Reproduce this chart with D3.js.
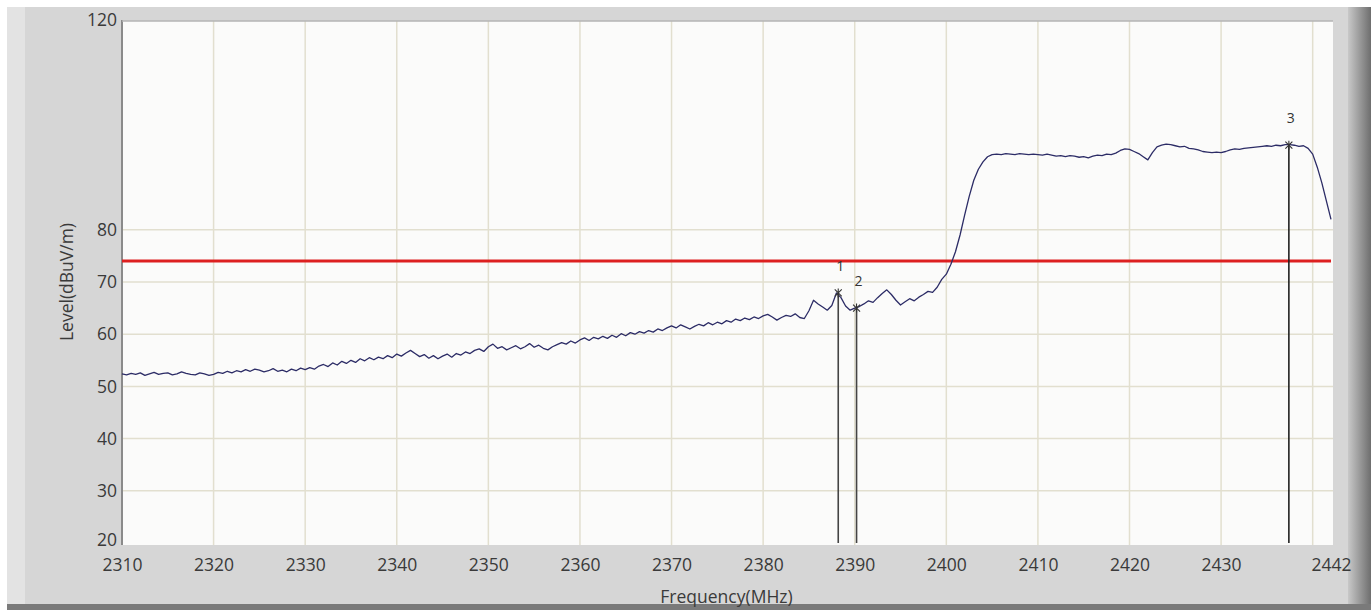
<!DOCTYPE html>
<html><head><meta charset="utf-8">
<script src="https://cdn.jsdelivr.net/npm/d3@7"></script>
<style>
html,body{margin:0;padding:0;background:#d7d7d7;overflow:hidden}
svg{display:block}
</style></head>
<body>
<svg id="c" width="1371" height="610"></svg>
<script>
// ---- data ----
const freqStart = 2310;
const freqStep = 0.5;
const levels = [
  // 2310 - 2319.5
  52.4, 52.2, 52.5, 52.3, 52.6, 52.1, 52.4, 52.7, 52.3, 52.5, 52.6, 52.2, 52.4, 52.8, 52.5, 52.3, 52.2, 52.6, 52.4, 52.1,
  // 2320
  52.3, 52.7, 52.5, 52.9, 52.6, 53.0, 52.8, 53.2, 52.9, 53.3, 53.1, 52.8, 53.0, 53.4, 52.9, 53.1, 52.8, 53.3, 53.0, 53.5,
  // 2330
  53.2, 53.6, 53.3, 53.9, 54.2, 53.8, 54.5, 54.1, 54.8, 54.4, 55.0, 54.6, 55.3, 54.9, 55.5, 55.1, 55.6, 55.3, 55.9, 55.5,
  // 2340
  56.2, 55.8, 56.4, 56.9, 56.3, 55.7, 56.1, 55.4, 55.9, 55.3, 55.8, 56.2, 55.6, 56.3, 56.0, 56.6, 56.3, 56.9, 57.2, 56.7,
  // 2350
  57.6, 58.1, 57.3, 57.6, 57.0, 57.4, 57.8, 57.2, 57.6, 58.2, 57.5, 57.9, 57.3, 57.0, 57.6, 58.0, 58.4, 58.1, 58.7, 58.3,
  // 2360
  58.9, 59.3, 58.8, 59.4, 59.1, 59.6, 59.2, 59.8, 59.4, 60.1, 59.7, 60.3, 60.0, 60.5, 60.2, 60.7, 60.4, 61.0, 60.7, 61.2,
  // 2370
  61.6, 61.2, 61.8, 61.4, 61.0, 61.5, 61.9, 61.6, 62.2, 61.8, 62.3, 62.0, 62.6, 62.3, 62.9, 62.6, 63.1, 62.8, 63.3, 63.0,
  // 2380
  63.5, 63.8, 63.3, 62.7, 63.2, 63.6, 63.4, 63.9, 63.2, 63.0, 64.5, 66.5, 65.8, 65.2, 64.6, 65.5, 67.9, 67.0, 65.4, 64.6,
  // 2390
  65.0, 65.3, 65.8, 66.4, 66.1, 67.0, 67.8, 68.5, 67.6, 66.5, 65.6, 66.2, 66.8, 66.4, 67.1, 67.6, 68.2, 68.0, 69.0, 70.5,
  // 2400
  71.5, 73.4, 75.8, 79.0, 82.8, 86.4, 89.5, 91.6, 93.0, 94.0, 94.4, 94.5, 94.4, 94.6, 94.5, 94.4, 94.6, 94.5, 94.4, 94.5,
  // 2410
  94.4, 94.3, 94.5, 94.3, 94.1, 94.2, 94.0, 94.2, 94.1, 93.9, 94.0, 93.8, 94.1, 94.3, 94.2, 94.5, 94.4, 94.7, 95.2, 95.5,
  // 2420
  95.4, 95.0, 94.6, 94.0, 93.4, 94.8, 95.9, 96.2, 96.4, 96.3, 96.1, 95.9, 96.0, 95.6, 95.5, 95.3, 95.0, 94.9, 94.8, 94.9,
  // 2430
  94.8, 95.0, 95.3, 95.5, 95.4, 95.6, 95.7, 95.8, 95.9, 96.0, 96.1, 96.0, 96.2, 96.1, 96.3, 96.3, 96.2, 96.0, 96.1, 95.6,
  // 2440 - 2442
  94.5, 92.0, 89.0, 85.5, 82.0
];
const limitLevel = 74;
const markerLabels = ["1", "2", "3"];
const markerFreqs = [2388.2, 2390.2, 2437.4];
const markerLevels = [67.9, 65.0, 96.2];
const xTickValues = [2310, 2320, 2330, 2340, 2350, 2360, 2370, 2380, 2390, 2400, 2410, 2420, 2430, 2442];
const xGridValues = [2320, 2330, 2340, 2350, 2360, 2370, 2380, 2390, 2400, 2410, 2420, 2430, 2440];
const yTickValues = [20, 30, 40, 50, 60, 70, 80, 120];
const yGridValues = [30, 40, 50, 60, 70, 80];

// ---- layout ----
const svg = d3.select("#c");
const W = 1371, H = 610;
const L = 122, R = 1331, T = 21, B = 543;

// frame
const defs = svg.append("defs");
const gr = defs.append("linearGradient").attr("id", "rg").attr("x1", 0).attr("x2", 1);
gr.append("stop").attr("offset", 0).attr("stop-color", "#c8c8c8");
gr.append("stop").attr("offset", 1).attr("stop-color", "#6e6e6e");
svg.append("rect").attr("x", 0).attr("y", 0).attr("width", W).attr("height", H).attr("fill", "#ffffff");
svg.append("rect").attr("x", 7).attr("y", 7).attr("width", W - 7).attr("height", H - 7).attr("fill", "#e3e3e3");
svg.append("rect").attr("x", 25).attr("y", 7).attr("width", W - 25).attr("height", H - 12).attr("fill", "#d6d6d6");
svg.append("rect").attr("x", 1348).attr("y", 7).attr("width", 23).attr("height", H - 7).attr("fill", "url(#rg)");
svg.append("rect").attr("x", 7).attr("y", 604).attr("width", W - 7).attr("height", 6).attr("fill", "#7a7a7a");

const x = d3.scaleLinear().domain([2310, 2442]).range([L, R]);
const y = d3.scaleLinear().domain([20, 120]).range([B, T]);

// plot background
svg.append("rect").attr("x", L).attr("y", T).attr("width", R - L + 2).attr("height", B - T + 2)
  .attr("fill", "#fbfbfa");

// grid
svg.append("g").selectAll("line").data(xGridValues).join("line")
  .attr("x1", d => x(d)).attr("x2", d => x(d)).attr("y1", T).attr("y2", B + 2)
  .attr("stroke", "#e2dfcf").attr("stroke-width", 1.5);
svg.append("g").selectAll("line").data(yGridValues).join("line")
  .attr("x1", L).attr("x2", R + 2).attr("y1", d => y(d)).attr("y2", d => y(d))
  .attr("stroke", "#e2dfcf").attr("stroke-width", 1.5);

// plot border (left & top)
svg.append("line").attr("x1", L).attr("x2", L).attr("y1", T - 1).attr("y2", B + 2)
  .attr("stroke", "#8a8a8a").attr("stroke-width", 2);
svg.append("line").attr("x1", L).attr("x2", R + 2).attr("y1", T).attr("y2", T)
  .attr("stroke", "#b5b5b5").attr("stroke-width", 1.5);

// axes
const fontFam = "'Open Sans', 'DejaVu Sans', sans-serif";
const xAxis = d3.axisBottom(x).tickValues(xTickValues).tickSize(0).tickPadding(16).tickFormat(d3.format("d"));
const gx = svg.append("g").attr("transform", `translate(0,${B})`).call(xAxis);
gx.select(".domain").remove();
gx.selectAll("text").attr("fill", "#3a3a3a").style("font-family", fontFam).style("font-size", "17.5px");

const yAxis = d3.axisLeft(y).tickValues(yTickValues).tickSize(0).tickPadding(5).tickFormat(d3.format("d"));
const gy = svg.append("g").attr("transform", `translate(${L},0)`).call(yAxis);
gy.select(".domain").remove();
gy.selectAll("text").attr("fill", "#3a3a3a").style("font-family", fontFam).style("font-size", "17.5px");
gy.selectAll(".tick").filter(d => d === 20).select("text").attr("dy", "0.15em");
gy.selectAll(".tick").filter(d => d === 120).select("text").attr("dy", "0.25em");

// axis titles
svg.append("text").attr("x", (L + R) / 2).attr("y", 603).attr("text-anchor", "middle")
  .attr("fill", "#3a3a3a").style("font-family", fontFam).style("font-size", "17.5px").text("Frequency(MHz)");
svg.append("text").attr("transform", `translate(73,${(T + B) / 2}) rotate(-90)`).attr("text-anchor", "middle")
  .attr("fill", "#3a3a3a").style("font-family", fontFam).style("font-size", "17.5px").text("Level(dBuV/m)");

// limit line
svg.append("line").attr("x1", x(2310)).attr("x2", x(2442)).attr("y1", y(limitLevel)).attr("y2", y(limitLevel))
  .attr("stroke", "#dd2020").attr("stroke-width", 3);

// trace
const pts = levels.map((v, i) => [freqStart + i * freqStep, v]);
svg.append("path").datum(pts)
  .attr("d", d3.line().x(d => x(d[0])).y(d => y(d[1])))
  .attr("fill", "none").attr("stroke", "#2c2c66").attr("stroke-width", 1.3).attr("stroke-linejoin", "round");

// markers
const mk = markerFreqs.map((f, i) => ({f, v: markerLevels[i], label: markerLabels[i]}));
const mg = svg.append("g").selectAll("g").data(mk).join("g");
mg.append("line").attr("x1", d => x(d.f)).attr("x2", d => x(d.f))
  .attr("y1", d => y(d.v)).attr("y2", B)
  .attr("stroke", (d, i) => i === 2 ? "#222" : "#444").attr("stroke-width", 1.6);
mg.append("path").attr("d", d => {
    const cx = x(d.f), cy = y(d.v), s = 3.5;
    return `M${cx - s},${cy - s}L${cx + s},${cy + s}M${cx - s},${cy + s}L${cx + s},${cy - s}M${cx},${cy - s - 1}L${cx},${cy + s + 1}`;
  })
  .attr("stroke", "#333").attr("stroke-width", 1.1).attr("fill", "none");
mg.append("text").attr("x", d => x(d.f) + 2).attr("y", d => y(d.v) - 22)
  .attr("text-anchor", "middle").attr("fill", "#333")
  .style("font-family", fontFam).style("font-size", "14px").text(d => d.label);
</script>
</body></html>
